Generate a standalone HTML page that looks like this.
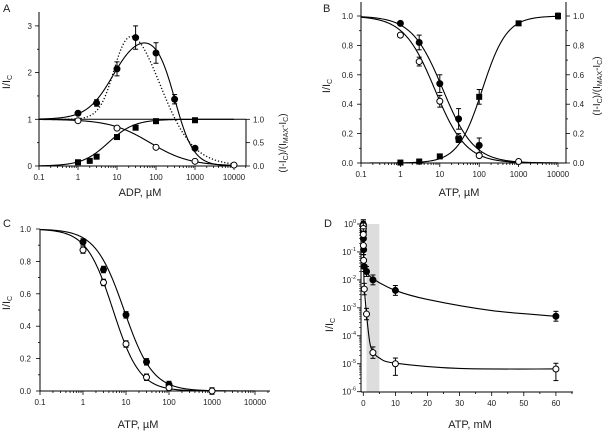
<!DOCTYPE html>
<html><head><meta charset="utf-8">
<style>
body{margin:0;background:#fff;}
svg{display:block;font-family:"Liberation Sans",sans-serif;}
</style></head>
<body>
<svg id="fig" width="608" height="431" viewBox="0 0 608 431"></svg>
<script>
// ---------- DATA ----------
// Panel A (ADP, µM)
const aX_filled=[1,3,10,30,100,300,1000];
const aY_filled=[1.13,1.35,2.08,2.75,2.42,1.43,0.38];
const aE_filled=[0.03,0.07,0.15,0.25,0.22,0.1,0.03];
const aX_open=[1,10,100,1000,10000];
const aY_open=[0.97,0.81,0.40,0.10,0.02];
const aX_sq=[1,2,3,10,30,100,1000];
const aY_sq=[0.08,0.11,0.20,0.62,0.82,0.96,0.98];
// Panel B (ATP, µM)
const bX_filled=[1,3,10,30,100];
const bY_filled=[0.95,0.82,0.54,0.30,0.12];
const bE_filled=[0.01,0.05,0.06,0.07,0.05];
const bX_open=[1,3,10,30,100,1000];
const bY_open=[0.87,0.69,0.42,0.17,0.05,0.01];
const bE_open=[0.01,0.03,0.04,0.03,0.01,0.005];
const bX_sq=[1,3,10,30,100,1000,10000];
const bY_sq=[0.003,0.01,0.045,0.16,0.45,0.95,1.0];
const bE_sq=[0.005,0.005,0.005,0.02,0.05,0.01,0.02];
// Panel C (ATP, µM)
const cX_filled=[1,3,10,30,100];
const cY_filled=[0.92,0.75,0.47,0.18,0.04];
const cX_open=[1,3,10,30,100,1000];
const cY_open=[0.87,0.67,0.29,0.085,0.02,0.0];
// Panel D (ATP, mM)
const dX_filled=[0.001,0.003,0.01,0.03,0.1,0.3,1,3,10,60];
const dY_filled=[0.95,0.82,0.54,0.30,0.12,0.03,0.02,0.01,0.0042,0.0005];
const dX_open=[0.001,0.003,0.01,0.03,0.1,0.3,1,3,10,60];
const dY_open=[0.87,0.69,0.42,0.17,0.05,0.0047,0.0006,0.000025,0.00001,0.0000065];
const dKnotX_filled=[0,0.1,0.3,1,3,10,20,40,60];
const dKnotY_filled=[1,0.12,0.035,0.02,0.011,0.0042,0.002,0.0008,0.0005];
const dKnotX_open=[0,0.1,0.3,1,2,3,5,10,30,60];
const dKnotY_open=[1,0.05,0.006,0.0006,0.00006,0.000028,0.000016,0.0000105,0.0000068,0.0000065];
// fit parameters
const aFitOpen=[70,0.85];
const aFitSq=[6,1.3];
const aFitSolid=[8,1.3,300,1.8,1.9];
const aFitDotted=[9,2.2,120,1.0,2.6];
const bFits=[[12,1.1],[7.5,1.1]];
const bFitSq=[120,1.4];
const cFits=[[9,1.3],[5,1.4]];

// ---------- HELPERS ----------
const NS="http://www.w3.org/2000/svg";
const svg=document.getElementById('fig');
function el(tag,attrs,parent){const e=document.createElementNS(NS,tag);for(const k in attrs)e.setAttribute(k,attrs[k]);(parent||svg).appendChild(e);return e;}
function line(x1,y1,x2,y2,w){return el('line',{x1,y1,x2,y2,stroke:'#000','stroke-width':w||1});}
function txt(x,y,s,size,anchor){const t=el('text',{x,y,'font-size':size||8,'text-anchor':anchor||'middle',fill:'#222'});t.textContent=s;return t;}
const inhib=(x,K,n)=>1/(1+Math.pow(x/K,n));
const act=(x,K,n)=>{const p=Math.pow(x/K,n);return p/(1+p);};
function curve(fn,xs,ys,dash,name){let d='';for(let i=0;i<=300;i++){const lv=-1+5*i/300;const v=Math.pow(10,lv);const y=fn(v);d+=(i?'L':'M')+xs(v).toFixed(2)+','+ys(y).toFixed(2);}
 const p=el('path',{d,fill:'none',stroke:'#000','stroke-width':dash?1.3:1.1,'stroke-dasharray':dash?'1.2,2':'none'});
 
 return p;}
function marker(type,x,y,name){let m;
 if(type==='sq') m=el('rect',{x:x-3,y:y-3,width:6,height:6,fill:'#000'});
 else m=el('circle',{cx:x,cy:y,r:3,fill:type==='filled'?'#000':'#fff',stroke:'#000','stroke-width':1});
 
 return m;}
function errbar(x,y1,y2){line(x,y1,x,y2,1);line(x-2.5,y1,x+2.5,y1,1);line(x-2.5,y2,x+2.5,y2,1);}
function logAxisX(xs,y,x0,x1,labels){line(x0,y,x1,y,1);
 for(let d=-1;d<=4;d++){for(let k=1;k<10;k++){const v=k*Math.pow(10,d);const x=xs(v);if(x>x1+0.5)break;line(x,y,x,y+(k===1?4:2),0.8);}}
 labels.forEach(v=>txt(xs(v),y+14,String(v),8));}
function panelLetter(x,y,s){const t=txt(x,y,s,11,'start');}
function yTitle(x,y,right){const t=el('text',{x:0,y:0,'font-size':11,'text-anchor':'middle',fill:'#222',transform:`translate(${x},${y}) rotate(-90)`});
 t.innerHTML=right?'(I-I<tspan font-size="7" dy="2">C</tspan><tspan dy="-2">)/(I</tspan><tspan font-size="7" dy="2">MAX</tspan><tspan dy="-2">-I</tspan><tspan font-size="7" dy="2">C</tspan><tspan dy="-2">)</tspan>':'I/I<tspan font-size="7" dy="2">C</tspan>';return t;}

// ---------- PANEL A ----------
{const xs=v=>39+(Math.log10(v)+1)*39, ys=v=>166-v*46.7;
 panelLetter(3,12,'A');
 line(39,12,39,166,1);[0,1,2,3].forEach(v=>{line(35,ys(v),39,ys(v),0.8);txt(32,ys(v)+3,String(v),8,'end');});
 [0.5,1.5,2.5].forEach(v=>line(37,ys(v),39,ys(v),0.8));
 logAxisX(xs,166,39,246,[0.1,1,10,100,1000,10000]);
 line(39,ys(1),246,ys(1),1);line(246,ys(1),246,166,1);
 [[0,'0.0'],[0.5,'0.5'],[1,'1.0']].forEach(([v,s])=>{line(246,ys(v),250,ys(v),0.8);txt(253,ys(v)+3,s,8,'start');});
 const yt=yTitle(10,82);
 const rt=yTitle(286,143,true);rt.setAttribute('font-size',10);
 const xt=txt(140,196,'ADP,  µM',11);
 const solid=v=>(1+aFitSolid[4]*act(v,aFitSolid[0],aFitSolid[1]))*inhib(v,aFitSolid[2],aFitSolid[3]);
 const dotted=v=>(1+aFitDotted[4]*act(v,aFitDotted[0],aFitDotted[1]))*inhib(v,aFitDotted[2],aFitDotted[3]);
 curve(dotted,xs,ys,true,'dotted-fit-a');
 curve(solid,xs,ys,false,'filled-fit-a');
 curve(v=>inhib(v,aFitOpen[0],aFitOpen[1]),xs,ys,false,'open-fit-a');
 curve(v=>act(v,aFitSq[0],aFitSq[1]),xs,ys,false,'square-fit-a');
 aX_filled.forEach((x,i)=>{errbar(xs(x),ys(aY_filled[i]+aE_filled[i]),ys(aY_filled[i]-aE_filled[i]));marker('filled',xs(x),ys(aY_filled[i]),'filled-point-a');});
 aX_open.forEach((x,i)=>marker('open',xs(x),ys(aY_open[i]),'open-point-a'));
 aX_sq.forEach((x,i)=>marker('sq',xs(x),ys(aY_sq[i]),'square-point-a'));
}
// ---------- PANEL B ----------
{const xs=v=>361+(Math.log10(v)+1)*39.4, ys=v=>163-v*147;
 panelLetter(323,12,'B');
 line(361,2,361,163,1);line(566,2,566,163,1);
 [0,0.2,0.4,0.6,0.8,1.0].forEach(v=>{line(357,ys(v),361,ys(v),0.8);txt(353,ys(v)+3,v.toFixed(1),8,'end');line(566,ys(v),570,ys(v),0.8);txt(573,ys(v)+3,v.toFixed(1),8,'start');});
 [0.1,0.3,0.5,0.7,0.9].forEach(v=>{line(359,ys(v),361,ys(v),0.8);line(566,ys(v),568,ys(v),0.8);});
 logAxisX(xs,163,361,566,[0.1,1,10,100,1000,10000]);
 const yt=yTitle(330,86);
 const rt=yTitle(600,86,true);rt.setAttribute('font-size',10);
 const xt=txt(459,196,'ATP, µM',11);
 curve(v=>inhib(v,bFits[0][0],bFits[0][1]),xs,ys,false,'filled-fit-b');
 curve(v=>inhib(v,bFits[1][0],bFits[1][1]),xs,ys,false,'open-fit-b');
 curve(v=>act(v,bFitSq[0],bFitSq[1]),xs,ys,false,'square-fit-b');
 bX_filled.forEach((x,i)=>{errbar(xs(x),ys(bY_filled[i]+bE_filled[i]),ys(bY_filled[i]-bE_filled[i]));marker('filled',xs(x),ys(bY_filled[i]),'filled-point-b');});
 bX_open.forEach((x,i)=>{errbar(xs(x),ys(bY_open[i]+bE_open[i]),ys(bY_open[i]-bE_open[i]));marker('open',xs(x),ys(bY_open[i]),'open-point-b');});
 bX_sq.forEach((x,i)=>{errbar(xs(x),ys(bY_sq[i]+bE_sq[i]),ys(bY_sq[i]-bE_sq[i]));marker('sq',xs(x),ys(bY_sq[i]),'square-point-b');});
}
// ---------- PANEL C ----------
{const xs=v=>40+(Math.log10(v)+1)*43, ys=v=>391-v*162;
 panelLetter(3,227,'C');
 line(40,229,40,391,1);
 [0,0.2,0.4,0.6,0.8,1.0].forEach(v=>{line(36,ys(v),40,ys(v),0.8);txt(31,ys(v)+3,v.toFixed(1),8,'end');});
 [0.1,0.3,0.5,0.7,0.9].forEach(v=>line(38,ys(v),40,ys(v),0.8));
 logAxisX(xs,391,40,270,[0.1,1,10,100,1000,10000]);
 const yt=yTitle(10,303);
 const xt=txt(138,428,'ATP, µM',11);
 curve(v=>inhib(v,cFits[0][0],cFits[0][1]),xs,ys,false,'filled-fit-c');
 curve(v=>inhib(v,cFits[1][0],cFits[1][1]),xs,ys,false,'open-fit-c');
 cX_filled.forEach((x,i)=>{errbar(xs(x),ys(cY_filled[i]+0.02),ys(cY_filled[i]-0.02));marker('filled',xs(x),ys(cY_filled[i]),'filled-point-c');});
 cX_open.forEach((x,i)=>{errbar(xs(x),ys(cY_open[i]+0.02),ys(cY_open[i]-0.02));marker('open',xs(x),ys(cY_open[i]),'open-point-c');});
}
// ---------- PANEL D ----------
{const xs=v=>363.3+v*3.21, ys=v=>224-Math.log10(v)*27.95;
 panelLetter(324,227,'D');
 const band=el('rect',{x:xs(1),y:224,width:xs(5)-xs(1),height:391.7-224,fill:'#ddd'});
 
 
 line(361,222,361,392,1);line(361,392,573,392,1);
 for(let e=0;e>=-6;e--){const y=ys(Math.pow(10,e));line(357,y,361,y,0.8);
  const t=el('text',{x:356,y:y+3,'font-size':8,'text-anchor':'end',fill:'#222'});t.innerHTML='10<tspan font-size="5.5" dy="-4">'+(e===0?'0':'-'+(-e))+'</tspan>';
  if(e<0)for(let k=2;k<10;k++){const yy=ys(k*Math.pow(10,e));line(359,yy,361,yy,0.6);}}
 [0,10,20,30,40,50,60].forEach(v=>{line(xs(v),392,xs(v),396,0.8);txt(xs(v),406,String(v),8);});
 [5,15,25,35,45,55,65].forEach(v=>line(xs(v),392,xs(v),394,0.8));
 const yt=yTitle(333,325);
 const xt=txt(470,428,'ATP, mM',11);
 function knotPath(kx,ky,name){const P=kx.map((x,i)=>[xs(x),ys(ky[i])]);let d='M'+P[0][0]+','+P[0][1];
  for(let i=0;i<P.length-1;i++){const p0=P[Math.max(0,i-1)],p1=P[i],p2=P[i+1],p3=P[Math.min(P.length-1,i+2)];
   d+=`C${p1[0]+(p2[0]-p0[0])/6},${p1[1]+(p2[1]-p0[1])/6} ${p2[0]-(p3[0]-p1[0])/6},${p2[1]-(p3[1]-p1[1])/6} ${p2[0]},${p2[1]}`;}
  const p=el('path',{d,fill:'none',stroke:'#000','stroke-width':1.1});
  
  }
 knotPath(dKnotX_filled,dKnotY_filled,'filled-fit-d');
 knotPath(dKnotX_open,dKnotY_open,'open-fit-d');
 dX_filled.forEach((x,i)=>{const y=dY_filled[i];errbar(xs(x),ys(y*1.5),ys(y/1.5));marker('filled',xs(x),ys(y),'filled-point-d');});
 dX_open.forEach((x,i)=>{const y=dY_open[i];errbar(xs(x),ys(y*1.6),ys(y/(x>=10?2.6:1.6)));marker('open',xs(x),ys(y),'open-point-d');});
}
</script>
</body></html>
